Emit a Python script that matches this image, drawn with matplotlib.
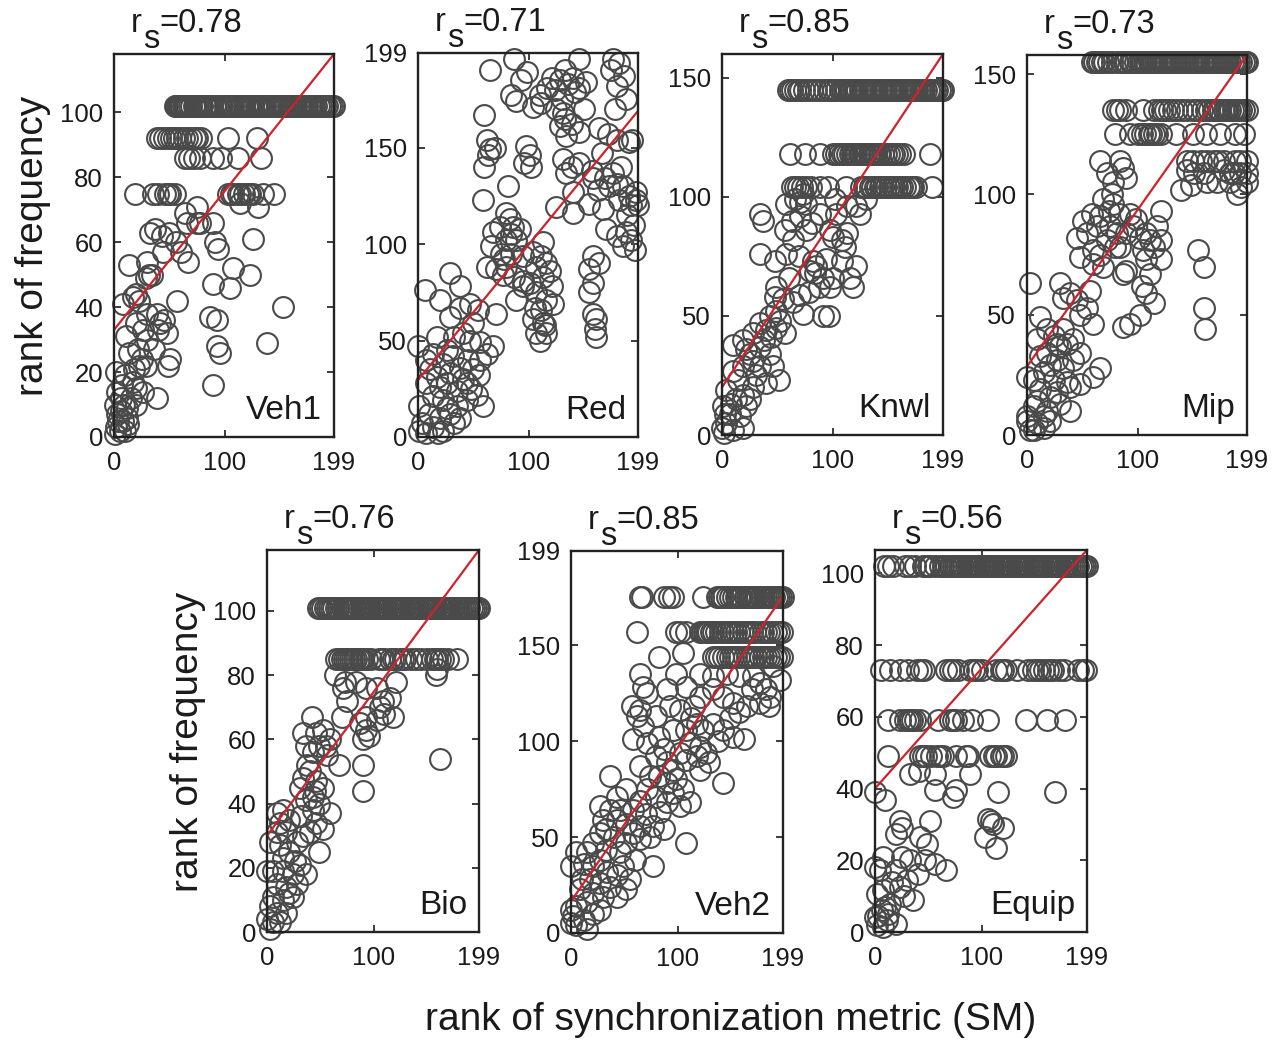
import matplotlib
matplotlib.use('Agg')
import matplotlib.pyplot as plt

plt.rcParams['font.family'] = ['Liberation Sans', 'DejaVu Sans']

# ---------------- data ----------------
panel_names = ['Veh1', 'Red', 'Knwl', 'Mip', 'Bio', 'Veh2', 'Equip']
rs_values = ['0.78', '0.71', '0.85', '0.73', '0.76', '0.85', '0.56']
y_max = [118, 199, 160, 158, 119, 199, 106.5]
y_ticks = [[0, 20, 40, 60, 80, 100], [0, 50, 100, 150, 199], [0, 50, 100, 150],
           [0, 50, 100, 150], [0, 20, 40, 60, 80, 100], [0, 50, 100, 150, 199],
           [0, 20, 40, 60, 80, 100]]
x_ticks = [0, 100, 199]
fit_start = [33, 29.5, 20, 28.5, 30, 16.5, 40]
fit_end = [118, 169, 160, 158, 119, 175.5, 106.5]

# tied rows: (rank of frequency, [ranks of SM])
veh1_ties = [
    (102, [55, 56, 57, 58, 59, 60, 61, 62, 63, 64, 65, 66, 68, 70, 72, 74, 76, 78, 80, 82, 84,
           86, 88, 91, 94, 97, 100, 102, 104, 106, 108, 110, 112, 114, 116, 118, 120, 122, 124,
           126, 128, 130, 131, 133, 135, 137, 139, 141, 143, 145, 147, 149, 151, 153, 155, 157,
           159, 161, 163, 165, 167, 169, 171, 173, 175, 177, 179, 181, 183, 185, 187, 189, 191,
           193, 195, 197, 199]),
    (92, [39, 42, 45, 49, 52, 54, 57, 60, 63, 66, 70, 73, 75, 79, 103, 129]),
    (86, [64, 68, 72, 78, 90, 97, 112, 133]),
    (75, [19, 35, 40, 46, 49, 51, 55, 103, 106, 108, 112, 114, 118, 121, 123, 126, 135, 145]),
]
veh1_pts = [(75, 71), (114, 72), (130, 71), (64, 69), (66, 66), (75, 66), (78, 66), (90, 66),
            (37, 64), (43, 62), (50, 63), (56, 60), (126, 61), (91, 60), (94, 58), (61, 57),
            (67, 54), (14, 53), (30, 54), (32, 50), (108, 52), (123, 50), (29, 49), (34, 50),
            (90, 47), (105, 46), (17, 43), (20, 44), (23, 42), (57, 42), (8, 41), (153, 40),
            (87, 37), (93, 36), (39, 38), (11, 31), (20, 35), (26, 33), (40, 33), (42, 35),
            (48, 32), (30, 30), (22, 27), (138, 29), (93, 28), (96, 26), (14, 26), (25, 24),
            (51, 24), (49, 22), (23, 22), (29, 22), (2, 20), (10, 19), (17, 17), (90, 16),
            (20, 15), (26, 14), (39, 12), (20, 10), (3, 14), (1, 10), (3, 7), (6, 8), (8, 5),
            (2, 3), (5, 2), (10, 2), (13, 4), (6, 12), (9, 10), (4, 5), (12, 9), (15, 12), (1, 1),
            (45, 36), (36, 27), (18, 21), (7, 16), (12, 6), (30, 38), (44, 57), (33, 63)]

red_ties = []
red_pts = [(87, 196), (65, 190), (99, 189), (146, 196), (176, 196), (182, 194), (175, 190),
           (133, 190), (140, 186), (128, 185), (124, 180), (152, 184), (146, 181), (142, 179),
           (84, 177), (89, 174), (110, 177), (111, 173), (104, 171), (125, 170), (131, 168),
           (133, 165), (128, 161), (139, 162), (134, 156), (146, 158), (164, 160), (172, 157),
           (180, 154), (188, 175), (180, 182), (191, 153), (194, 154), (60, 167), (62, 154),
           (65, 149), (63, 146), (60, 140), (98, 151), (101, 146), (96, 142), (102, 140),
           (81, 130), (59, 123), (131, 144), (139, 140), (146, 142), (157, 138), (158, 134),
           (169, 134), (173, 130), (180, 131), (185, 130), (140, 127), (125, 119), (140, 116),
           (155, 121), (167, 118), (182, 123), (191, 125), (197, 123), (193, 120), (199, 120),
           (197, 127), (170, 108), (180, 104), (188, 106), (193, 102), (196, 97), (185, 99),
           (158, 94), (164, 90), (155, 87), (158, 80), (155, 75), (158, 64), (161, 61),
           (160, 56), (161, 52), (80, 116), (83, 113), (74, 109), (86, 109), (92, 108),
           (68, 106), (80, 102), (89, 102), (66, 99), (75, 95), (84, 95), (95, 94), (62, 88),
           (71, 87), (80, 88), (87, 83), (95, 78), (89, 71), (95, 81), (101, 80), (113, 101),
           (111, 94), (116, 90), (107, 88), (113, 83), (121, 78), (107, 75), (116, 71),
           (122, 69), (111, 66), (104, 61), (115, 58), (107, 54), (116, 54), (110, 50), (6, 76),
           (29, 85), (38, 78), (47, 69), (38, 67), (20, 71), (29, 62), (71, 64), (68, 47),
           (54, 66), (50, 59), (41, 54), (33, 52), (17, 52), (0, 47), (14, 43), (26, 45),
           (47, 50), (56, 49), (62, 43), (56, 40), (50, 35), (38, 36), (29, 33), (23, 38),
           (17, 31), (7, 40), (7, 28), (26, 28), (35, 24), (44, 28), (53, 22), (59, 16),
           (44, 19), (35, 16), (23, 19), (14, 21), (1, 16), (10, 12), (20, 10), (29, 12),
           (4, 7), (14, 5), (23, 3), (7, 2), (1, 3), (18, 2), (38, 10), (130, 175), (136, 183),
           (121, 186), (150, 170), (186, 187), (178, 170), (166, 147), (184, 140), (176, 137),
           (163, 128), (189, 115), (195, 110), (78, 92), (84, 105), (77, 84), (45, 40), (32, 42),
           (41, 30), (20, 26), (11, 35), (26, 15), (33, 7), (48, 25), (55, 32), (119, 86),
           (104, 96), (106, 67), (113, 59), (134, 137), (117, 181), (93, 185), (70, 150)]

knwl_ties = [
    (145, [59, 61, 63, 66, 68, 70, 74, 77, 81, 85, 88, 92, 95, 97, 100, 103, 106, 108, 110, 112,
           114, 116, 118, 120, 122, 124, 126, 128, 130, 132, 134, 136, 138, 140, 142, 144, 146,
           148, 150, 152, 154, 156, 158, 160, 162, 164, 166, 168, 170, 172, 174, 176, 178, 180,
           182, 184, 186, 188, 190, 192, 194, 196, 198, 199]),
    (118, [61, 75, 88, 100, 103, 105, 108, 110, 113, 115, 117, 118, 120, 121, 123, 124, 126, 127,
           129, 130, 132, 133, 135, 136, 138, 139, 141, 142, 145, 148, 150, 153, 155, 158, 160,
           164, 187]),
    (104, [63, 66, 68, 72, 76, 80, 88, 95, 112, 125, 128, 130, 133, 135, 138, 140, 142, 145, 148,
           150, 153, 155, 158, 160, 162, 165, 168, 170, 172, 175, 189]),
]
knwl_pts = [(66, 99), (58, 97), (73, 101), (76, 97), (63, 90), (70, 92), (57, 86), (64, 82),
            (76, 86), (88, 93), (97, 86), (34, 93), (37, 90), (34, 76), (48, 73), (58, 76),
            (69, 75), (82, 73), (79, 69), (85, 71), (91, 66), (87, 62), (78, 60), (70, 59),
            (64, 56), (73, 51), (91, 50), (96, 50), (100, 83), (108, 82), (111, 79), (113, 85),
            (108, 73), (121, 71), (115, 66), (118, 62), (100, 66), (97, 62), (102, 99),
            (113, 96), (121, 96), (124, 93), (130, 99), (103, 93), (49, 62), (48, 58), (55, 57),
            (49, 52), (43, 50), (34, 47), (40, 44), (49, 45), (57, 43), (28, 43), (19, 40),
            (10, 38), (22, 36), (34, 37), (43, 34), (28, 31), (19, 29), (10, 27), (34, 29),
            (46, 29), (51, 23), (40, 22), (28, 20), (19, 17), (25, 15), (13, 15), (4, 19),
            (1, 12), (7, 9), (16, 8), (4, 5), (0, 3), (10, 2), (19, 3), (3, 9), (22, 12),
            (84, 68), (94, 74), (60, 66), (52, 48), (38, 40), (25, 34), (14, 23), (31, 25),
            (8, 13), (2, 1), (44, 41), (70, 98), (81, 89)]

mip_ties = [
    (155, [59, 61, 63, 65, 68, 70, 73, 77, 81, 85, 88, 90, 93, 95, 98, 100, 102, 104, 106, 108,
           110, 112, 114, 116, 118, 120, 122, 124, 126, 128, 130, 132, 134, 136, 138, 140, 142,
           144, 146, 148, 150, 152, 154, 156, 158, 160, 162, 164, 166, 168, 170, 172, 174, 176,
           178, 180, 182, 184, 186, 188, 190, 192, 194, 196, 198, 199]),
    (135, [78, 81, 84, 90, 105, 115, 119, 122, 125, 128, 132, 136, 140, 145, 150, 154, 158, 162,
           165, 168, 170, 173, 175, 178, 180, 182, 184, 186, 188, 190, 192, 194, 196, 199]),
    (125, [80, 93, 100, 104, 107, 110, 112, 115, 118, 121, 135, 150, 162, 175, 188, 196]),
    (114, [66, 84, 145, 150, 157, 163, 169, 173, 178, 188, 193, 199]),
]
mip_pts = [(145, 110), (151, 109), (160, 109), (178, 110), (187, 109), (193, 109), (139, 102),
           (148, 104), (163, 105), (172, 105), (184, 105), (194, 103), (199, 105), (190, 100),
           (184, 109), (199, 109), (87, 111), (90, 107), (78, 105), (72, 109), (77, 100),
           (69, 98), (74, 93), (66, 91), (59, 92), (51, 89), (63, 87), (45, 82), (54, 84),
           (78, 96), (83, 92), (75, 87), (81, 84), (72, 81), (80, 78), (66, 75), (60, 71),
           (69, 70), (48, 74), (60, 77), (93, 92), (96, 87), (90, 84), (102, 82), (108, 84),
           (121, 93), (118, 87), (111, 81), (121, 81), (115, 78), (105, 77), (108, 73),
           (121, 73), (111, 67), (104, 62), (108, 59), (115, 55), (102, 50), (93, 46), (87, 45),
           (90, 68), (87, 67), (155, 77), (160, 70), (160, 53), (161, 44), (3, 63), (30, 63),
           (39, 59), (33, 57), (45, 56), (54, 53), (48, 50), (60, 46), (12, 49), (18, 44),
           (9, 40), (24, 41), (30, 37), (36, 38), (18, 34), (27, 31), (33, 28), (42, 31),
           (48, 34), (66, 28), (60, 24), (48, 21), (39, 20), (24, 23), (15, 26), (6, 23),
           (0, 24), (12, 19), (21, 16), (30, 13), (39, 10), (18, 10), (6, 12), (0, 8), (9, 5),
           (15, 3), (3, 2), (0, 6), (21, 6), (27, 38), (21, 29), (12, 33), (33, 44), (36, 22),
           (27, 18), (9, 14), (15, 8), (6, 2), (42, 40), (57, 60), (99, 90), (84, 78)]

bio_ties = [
    (101, [48, 50, 52, 54, 56, 58, 60, 62, 65, 67, 70, 72, 74, 76, 78, 80, 82, 84, 86, 88, 90,
           92, 94, 96, 98, 100, 102, 104, 106, 108, 110, 112, 114, 116, 118, 120, 122, 124, 126,
           128, 130, 132, 134, 136, 138, 140, 142, 144, 146, 148, 150, 152, 154, 156, 158, 160,
           162, 164, 166, 168, 170, 172, 174, 176, 178, 180, 182, 184, 186, 188, 190, 192, 194,
           196, 198, 199]),
    (85, [65, 68, 70, 72, 74, 76, 78, 80, 82, 84, 86, 88, 90, 94, 98, 105, 108, 110, 115, 118,
          120, 125, 128, 130, 135, 140, 145, 150, 155, 158, 160, 162, 165, 170, 178]),
]
bio_pts = [(64, 80), (73, 78), (71, 76), (75, 72), (84, 78), (93, 76), (103, 76), (109, 72),
           (106, 70), (115, 73), (121, 78), (118, 67), (103, 66), (93, 67), (87, 65), (93, 63),
           (96, 61), (90, 60), (70, 67), (159, 80), (162, 54), (90, 52), (90, 44), (68, 52),
           (42, 67), (34, 62), (46, 62), (53, 63), (59, 60), (37, 58), (49, 58), (43, 56),
           (56, 55), (34, 48), (40, 50), (46, 47), (53, 45), (43, 42), (37, 41), (49, 40),
           (59, 37), (46, 34), (40, 31), (53, 32), (49, 25), (34, 30), (28, 28), (21, 25),
           (15, 23), (9, 37), (15, 38), (21, 35), (12, 34), (9, 31), (18, 31), (3, 28),
           (31, 21), (24, 18), (37, 18), (15, 19), (6, 19), (9, 15), (18, 14), (28, 15),
           (24, 11), (3, 8), (15, 10), (9, 6), (18, 6), (0, 4), (6, 3), (12, 3), (3, 1), (0, 19),
           (38, 52), (45, 44), (32, 36), (26, 22), (12, 27), (21, 12), (6, 11), (31, 45),
           (55, 58), (43, 38), (160, 82), (110, 68)]

veh2_ties = [
    (175, [65, 67, 87, 92, 96, 124, 137, 139, 141, 143, 146, 149, 152, 155, 158, 160, 163, 165,
           167, 169, 171, 173, 175, 177, 179, 181, 183, 185, 187, 189, 191, 193, 195, 197, 199]),
    (157, [62, 99, 102, 108, 121, 123, 125, 127, 129, 131, 133, 136, 140, 143, 146, 149, 152, 155,
           158, 161, 164, 167, 170, 173, 177, 180, 183, 186, 189, 192, 195, 198]),
    (144, [133, 136, 139, 143, 146, 149, 152, 155, 158, 162, 165, 168, 171, 174, 177, 180, 183,
           186, 189, 192, 195, 198]),
]
veh2_pts = [(83, 144), (105, 146), (65, 135), (68, 128), (71, 125), (90, 127), (99, 135),
            (108, 128), (121, 135), (133, 134), (146, 135), (158, 134), (171, 134), (177, 130),
            (183, 127), (187, 123), (177, 120), (165, 118), (158, 115), (152, 120), (143, 123),
            (133, 127), (121, 123), (115, 118), (102, 116), (93, 118), (80, 113), (65, 116),
            (57, 118), (62, 113), (68, 108), (58, 101), (71, 99), (83, 102), (96, 106),
            (108, 106), (118, 109), (124, 106), (133, 109), (143, 106), (152, 102), (162, 101),
            (112, 99), (121, 97), (127, 94), (118, 92), (108, 90), (102, 94), (130, 89),
            (121, 85), (143, 78), (96, 85), (90, 89), (83, 82), (80, 92), (65, 87), (74, 82),
            (90, 78), (96, 73), (105, 75), (112, 68), (102, 66), (90, 68), (80, 71), (71, 75),
            (65, 69), (58, 64), (52, 75), (37, 82), (43, 71), (37, 64), (27, 66), (30, 59),
            (43, 59), (52, 57), (65, 56), (77, 56), (87, 54), (74, 50), (65, 49), (108, 47),
            (77, 35), (52, 47), (40, 50), (27, 52), (21, 47), (15, 42), (5, 42), (0, 35),
            (12, 36), (21, 35), (27, 38), (33, 43), (46, 42), (49, 35), (55, 28), (43, 30),
            (37, 24), (27, 26), (18, 28), (8, 23), (21, 21), (30, 19), (43, 19), (52, 23),
            (15, 16), (5, 14), (0, 12), (2, 9), (12, 7), (21, 10), (5, 4), (15, 2), (0, 5),
            (27, 12), (190, 139), (196, 132), (170, 127), (186, 118), (149, 112), (138, 100),
            (113, 112), (87, 96), (99, 80), (70, 62), (58, 52), (33, 54), (46, 64), (84, 63),
            (10, 28), (34, 32), (60, 38)]

equip_ties = [
    (102, [8, 12.5, 17, 28, 33, 38, 45, 47, 50, 52, 56, 61, 64, 67, 69, 71, 73, 75, 77, 79, 81,
           83, 85, 87, 89, 91, 93, 95, 97, 99, 101, 103, 105, 107, 109, 111, 113, 115, 117, 119,
           121, 123, 125, 127, 129, 131, 133, 135, 137, 139, 141, 143, 145, 147, 149, 151, 153,
           155, 157, 159, 161, 163, 165, 167, 169, 171, 173, 175, 177, 179, 181, 183, 185, 187,
           189, 191, 193, 195, 197, 199]),
    (73, [6, 14, 23, 31, 39, 43, 46, 67, 70, 73, 78, 89, 93, 96, 100, 114, 118, 120, 123, 133,
          144, 148, 152, 155, 159, 162.5, 165, 167, 173, 177, 191, 195, 198]),
    (59, [12.5, 23, 28, 31, 33, 35, 37.5, 42, 59, 70, 73, 76.5, 83, 90.6, 106, 142, 161, 178]),
    (49, [12.5, 42, 45, 48, 53, 58, 61, 64, 76.5, 85, 87.5, 108, 112, 114, 118, 120, 123]),
]
equip_pts = [(33, 44), (41, 45), (56, 44), (89, 44), (56, 39.5), (73, 37.7), (76.5, 39.5),
             (115.6, 39), (169, 39), (0, 39), (9.4, 36.7), (23, 31), (25, 29), (20, 27.4),
             (51.5, 31), (42, 26.5), (48.4, 24.6), (106, 31.6), (111, 30), (120, 29), (103, 26.5),
             (114, 23.3), (7.8, 21), (0, 18), (4.7, 17.2), (20, 17.2), (33, 20), (47, 20),
             (56, 19), (67, 17.2), (40.6, 16.3), (30, 14.4), (23, 12.6), (36, 8.8), (7.8, 11.6),
             (1.6, 10.7), (14, 7.9), (6.2, 6), (0, 4.2), (11, 3.3), (20, 2.3), (7.8, 1.4),
             (3, 4.6), (12.5, 5), (16, 14), (27, 10), (2, 2), (9, 7), (25, 21), (109, 31)]

all_ties = [veh1_ties, red_ties, knwl_ties, mip_ties, bio_ties, veh2_ties, equip_ties]
all_pts = [veh1_pts, red_pts, knwl_pts, mip_pts, bio_pts, veh2_pts, equip_pts]

# ---------------- layout ----------------
W, H = 1279, 1043
# axes boxes in pixels: left, right, top, bottom
boxes = [(114, 334, 54, 437), (418, 638, 53, 437), (722, 943, 54, 435), (1027, 1247, 55, 435),
         (267, 479, 550, 932), (571, 783, 551, 933), (875, 1087, 550, 932)]

fig = plt.figure(figsize=(W / 100, H / 100), dpi=100)
circ_col = '#4a4a4a'
red_col = '#d0222a'
txt_col = '#1a1a1a'

for i, (l, r, t, b) in enumerate(boxes):
    ax = fig.add_axes([l / W, 1 - b / H, (r - l) / W, (b - t) / H])
    xs, ys = [], []
    for lvl, row in all_ties[i]:
        xs += row
        ys += [lvl] * len(row)
    for (px, py) in all_pts[i]:
        xs.append(px)
        ys.append(py)
    ax.plot(xs, ys, 'o', ms=15, mfc='none', mec=circ_col, mew=1.5, clip_on=False, zorder=2)
    ax.plot([0, 199], [fit_start[i], fit_end[i]], '-', color=red_col, lw=1.6, zorder=3)
    ax.set_xlim(0, 199)
    ax.set_ylim(0, y_max[i])
    ax.set_xticks(x_ticks)
    ax.set_yticks(y_ticks[i])
    ax.tick_params(direction='in', length=5, width=1.2, top=True, right=True,
                   labelsize=18.5, colors=txt_col, pad=8)
    ax.tick_params(axis='x', pad=10)
    for sp in ax.spines.values():
        sp.set_linewidth(1.7)
        sp.set_color('#222222')
        sp.set_zorder(5)
    ax.patch.set_alpha(0)
    # title r_s = value
    dx, dy = 17, 22
    ax.annotate('r', xy=(0, 1), xycoords='axes fraction', xytext=(dx, dy),
                textcoords='offset pixels', ha='left', va='baseline', fontsize=23.5,
                color=txt_col)
    ax.annotate('s', xy=(0, 1), xycoords='axes fraction', xytext=(dx + 12, dy - 16),
                textcoords='offset pixels', ha='left', va='baseline', fontsize=23.5,
                color=txt_col)
    ax.annotate('=' + rs_values[i], xy=(0, 1), xycoords='axes fraction', xytext=(dx + 28, dy),
                textcoords='offset pixels', ha='left', va='baseline', fontsize=23.5,
                color=txt_col)
    ax.annotate(panel_names[i], xy=(1, 0), xycoords='axes fraction', xytext=(-12, 18),
                textcoords='offset pixels', ha='right', va='baseline', fontsize=24,
                color=txt_col)

fig.text(33 / W, 1 - 246 / H, 'rank of frequency', rotation=90, ha='center', va='center',
         fontsize=28, color=txt_col)
fig.text(188 / W, 1 - 742 / H, 'rank of frequency', rotation=90, ha='center', va='center',
         fontsize=28, color=txt_col)
fig.text(731 / W, 1 - 1030 / H, 'rank of synchronization metric (SM)', ha='center',
         va='baseline', fontsize=28, color=txt_col)

fig.savefig('out.png', dpi=100)
